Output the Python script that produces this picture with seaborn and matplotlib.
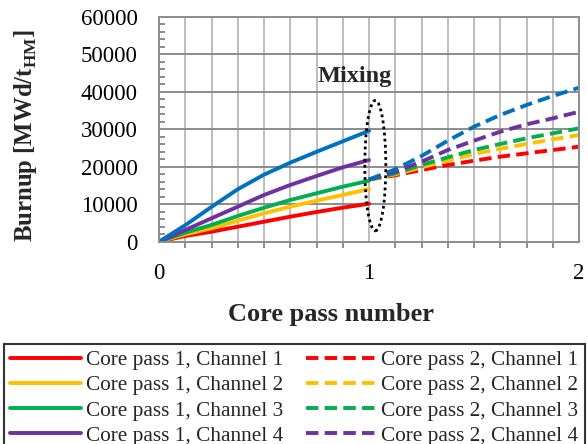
import matplotlib
matplotlib.use("Agg")
import matplotlib.pyplot as plt
from matplotlib.patches import Ellipse
from matplotlib.ticker import MultipleLocator, FixedLocator
import seaborn as sns
import pandas as pd

# ---- data ----
x_pass1 = [0, 0.125, 0.25, 0.375, 0.5, 0.625, 0.75, 0.875, 1.0]
x_pass2 = [1.0, 1.125, 1.25, 1.375, 1.5, 1.625, 1.75, 1.875, 2.0]

channels = ["Channel 1", "Channel 2", "Channel 3", "Channel 4", "Channel 5"]
colors = ["#FF0000", "#FFC000", "#00B050", "#7030A0", "#0070C0"]

pass1_ch1 = [0, 1520, 2670, 4000, 5340, 6680, 7930, 9080, 10150]
pass1_ch2 = [0, 1970, 3580, 5610, 7580, 9350, 10950, 12470, 14070]
pass1_ch3 = [0, 2400, 4460, 6860, 9080, 11130, 12920, 14690, 16290]
pass1_ch4 = [0, 3120, 6250, 9350, 12470, 15140, 17540, 19860, 21800]
pass1_ch5 = [0, 4400, 9300, 14000, 17900, 21100, 24000, 26800, 29600]

pass2_ch1 = [16600, 17730, 19140, 20480, 21630, 22700, 23600, 24480, 25370]
pass2_ch2 = [16600, 17990, 19860, 21630, 23420, 24830, 26090, 27340, 28490]
pass2_ch3 = [16600, 18260, 20480, 22530, 24480, 26090, 27610, 28940, 30280]
pass2_ch4 = [16600, 18690, 21360, 24480, 26970, 29370, 31340, 32940, 34700]
pass2_ch5 = [16600, 19330, 22880, 26970, 30710, 33830, 36500, 38900, 41120]

pass1 = [pass1_ch1, pass1_ch2, pass1_ch3, pass1_ch4, pass1_ch5]
pass2 = [pass2_ch1, pass2_ch2, pass2_ch3, pass2_ch4, pass2_ch5]

x_ticks = [0, 1, 2]
y_ticks = [0, 10000, 20000, 30000, 40000, 50000, 60000]

# ---- style ----
sns.set_theme(style="white")
plt.rcParams["font.family"] = ["Liberation Serif", "DejaVu Serif"]
plt.rcParams["mathtext.fontset"] = "custom"
plt.rcParams["mathtext.rm"] = "Liberation Serif"
plt.rcParams["mathtext.bf"] = "Liberation Serif:bold"

fig = plt.figure(figsize=(5.88, 4.44), dpi=100)
ax = fig.add_axes([159 / 588, 1 - 241.7 / 444, 420 / 588, 224.7 / 444])

lw = 2.8
for ch, c, ys in zip(channels, colors, pass1):
    df = pd.DataFrame({"x": x_pass1, "y": ys})
    sns.lineplot(data=df, x="x", y="y", ax=ax, color=c, lw=lw,
                 label=f"Core pass 1, {ch}", legend=False)
for ch, c, ys in zip(channels, colors, pass2):
    df = pd.DataFrame({"x": x_pass2, "y": ys})
    sns.lineplot(data=df, x="x", y="y", ax=ax, color=c, lw=lw,
                 label=f"Core pass 2, {ch}", legend=False)
lines = ax.get_lines()
for ln in lines[5:]:
    ln.set_dashes((3.2, 1.6))

ax.set_xlim(0, 2)
ax.set_ylim(0, 60000)
ax.xaxis.set_major_locator(FixedLocator(x_ticks))
ax.xaxis.set_minor_locator(MultipleLocator(0.125))
ax.yaxis.set_major_locator(FixedLocator(y_ticks))
ax.yaxis.set_minor_locator(MultipleLocator(2000))
ax.set_xticklabels([str(v) for v in x_ticks])
ax.set_yticklabels([str(v) for v in y_ticks])

ax.grid(False)
for xv in [i * 0.125 for i in range(1, 16)]:
    ax.axvline(xv, color="#bdbdbd", lw=1.4, zorder=0.5)
for yv in y_ticks[1:]:
    ax.axhline(yv, color="#8c8c8c", lw=1.4, zorder=0.6)

for s in ax.spines.values():
    s.set_color("#8c8c8c")
    s.set_linewidth(1.4)

ax.tick_params(axis="both", which="major", labelsize=16.5, colors="#8c8c8c",
               labelcolor="black", direction="out", length=4, width=1.4)
ax.tick_params(axis="x", which="major", pad=11)
ax.tick_params(axis="y", which="major", pad=11.5)
ax.tick_params(axis="x", which="minor", direction="out", length=4, width=1.4,
               colors="#8c8c8c", bottom=True)
ax.tick_params(axis="y", which="minor", direction="in", length=4, width=1.4,
               colors="#8c8c8c", left=True)

ax.set_xlabel("")
ax.set_ylabel(r"Burnup [MWd/t$_{\mathbf{HM}}$]", fontsize=17.8,
              fontweight="bold")
ax.yaxis.set_label_coords(-0.285, 0.475)
fig.text(331 / 588, 1 - 315 / 444, "Core pass number", fontsize=19,
         fontweight="bold", ha="center", va="center")

ax.text(0.933, 44000, "Mixing", fontsize=17.5, fontweight="bold",
        ha="center", va="center")
ell = Ellipse((1.03, 20300), width=0.1, height=34800, fill=False,
              edgecolor="black", lw=2.0, linestyle=(0, (1, 1.2)), zorder=5)
ax.add_patch(ell)

leg = fig.legend(handles=lines, loc="upper left",
                 bbox_to_anchor=(4 / 588, 1 - 344 / 444), ncol=2,
                 fontsize=15.3, frameon=True, fancybox=False,
                 edgecolor="black", borderaxespad=0, handlelength=3.3,
                 handletextpad=0.25, columnspacing=1.05, labelspacing=0.25,
                 borderpad=0.3)
leg.get_frame().set_linewidth(1.5)

fig.savefig("out.png", dpi=100)
